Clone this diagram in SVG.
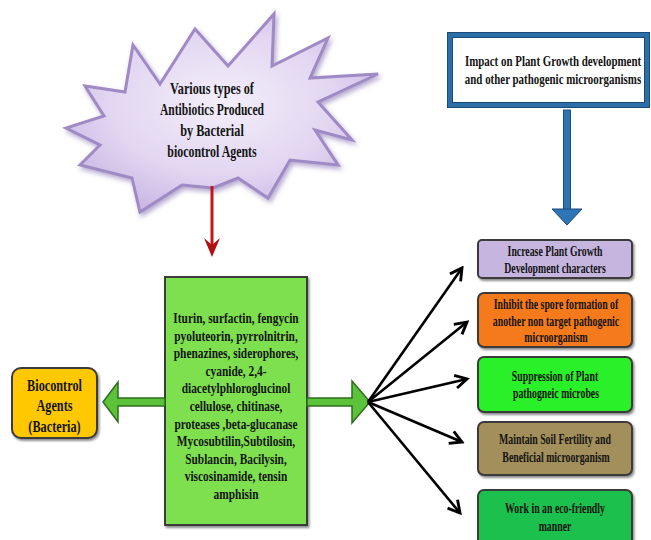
<svg xmlns="http://www.w3.org/2000/svg" width="651" height="540" viewBox="0 0 651 540">
<defs>
<style>
text{font-family:"Liberation Serif","Times New Roman",serif;font-weight:bold;fill:#141414;text-anchor:middle}
.st{font-size:17.5px}.bl{font-size:14px}.gr{font-size:15px}.ye{font-size:17.5px}.rb{font-size:14px}
.box{stroke:#3a3a3a;stroke-width:2}
.blk{fill:none;stroke:#000;stroke-width:2.6}
</style>
<radialGradient id="lav" cx="0.5" cy="0.45" r="0.6">
<stop offset="0" stop-color="#f3eefa"/><stop offset="0.6" stop-color="#e2d6f1"/><stop offset="1" stop-color="#c9b5e2"/>
</radialGradient>
<filter id="sh" x="-10%" y="-10%" width="130%" height="130%">
<feDropShadow dx="2" dy="3" stdDeviation="2.5" flood-color="#7a62a8" flood-opacity="0.55"/>
</filter>
<filter id="bsh" x="-5%" y="-5%" width="115%" height="125%">
<feDropShadow dx="1.5" dy="2" stdDeviation="1.2" flood-color="#000" flood-opacity="0.45"/>
</filter>
<marker id="chev" viewBox="0 0 12 12" refX="10" refY="6" markerWidth="6" markerHeight="6" orient="auto" markerUnits="strokeWidth">
<path d="M1,1 L10,6 L1,11" fill="none" stroke="#000" stroke-width="2.2" stroke-linejoin="miter"/>
</marker>
</defs>
<rect width="651" height="540" fill="#fff"/>

<g id="starburst">
<polygon filter="url(#sh)" fill="url(#lav)" stroke="#a08ac6" stroke-width="3" stroke-linejoin="miter"
points="133,45 160,84 195,29 228,66 274,14 272,66 328,38 310,78 378,74 318,102 352,140 315,130 338,165 290,160 268,198 238,178 213,188 182,185 140,212 132,178 80,165 100,145 66,128 104,116 85,86 125,92"/>
<text class="st" transform="translate(212,94) scale(0.7,1)">Various types of</text>
<text class="st" transform="translate(212,115) scale(0.66,1)">Antibiotics Produced</text>
<text class="st" transform="translate(212,136) scale(0.7,1)">by Bacterial</text>
<text class="st" transform="translate(212,157) scale(0.68,1)">biocontrol Agents</text>
</g>

<g id="impact">
<rect x="450" y="35" width="197" height="70" fill="#fff" stroke="#2a6fa8" stroke-width="5"/>
<rect x="447.5" y="32.5" width="202" height="75" fill="none" stroke="#1b4a78" stroke-width="1"/>
<rect x="452.5" y="37.5" width="192" height="65" fill="none" stroke="#1b4a78" stroke-width="1"/>
<text class="bl" transform="translate(553,66) scale(0.78,1)">Impact on Plant Growth development</text>
<text class="bl" transform="translate(553,84) scale(0.78,1)">and other pathogenic microorganisms</text>
</g>

<g id="antibiotics">
<rect x="165" y="277" width="142" height="248" fill="#7ee04f" stroke="#3a3a3a" stroke-width="2" filter="url(#bsh)"/>
<g transform="translate(236,0) scale(0.76,1)">
<text class="gr" x="0" y="323">Iturin, surfactin, fengycin</text>
<text class="gr" x="0" y="340.6">pyoluteorin, pyrrolnitrin,</text>
<text class="gr" x="0" y="358.2">phenazines, siderophores,</text>
<text class="gr" x="0" y="375.8">cyanide, 2,4-</text>
<text class="gr" x="0" y="393.4">diacetylphloroglucinol</text>
<text class="gr" x="0" y="411">cellulose, chitinase,</text>
<text class="gr" x="0" y="428.6">proteases ,beta-glucanase</text>
<text class="gr" x="0" y="446.2">Mycosubtilin,Subtilosin,</text>
<text class="gr" x="0" y="463.8">Sublancin, Bacilysin,</text>
<text class="gr" x="0" y="481.4">viscosinamide, tensin</text>
<text class="gr" x="0" y="499">amphisin</text>
</g>
</g>

<g id="biocontrol">
<rect x="12" y="368" width="85" height="70" rx="9" fill="#ffc800" stroke="#3a3a3a" stroke-width="2" filter="url(#bsh)"/>
<g transform="translate(54.5,0) scale(0.7,1)">
<text class="ye" x="0" y="391">Biocontrol</text>
<text class="ye" x="0" y="411.5">Agents</text>
<text class="ye" x="0" y="432">(Bacteria)</text>
</g>
</g>

<g id="box1">
<rect class="box" x="478" y="240" width="154" height="38" rx="4" fill="#c6b5df" filter="url(#bsh)"/>
<text class="rb" transform="translate(555,256) scale(0.7,1)">Increase Plant Growth</text>
<text class="rb" transform="translate(555,272.5) scale(0.7,1)">Development characters</text>
</g>
<g id="box2">
<rect class="box" x="478" y="293" width="154" height="54" rx="6" fill="#f57a1c" filter="url(#bsh)"/>
<text class="rb" transform="translate(556,309) scale(0.7,1)">Inhibit the spore formation of</text>
<text class="rb" transform="translate(556,325.5) scale(0.7,1)">another non target pathogenic</text>
<text class="rb" transform="translate(556,342) scale(0.7,1)">microorganism</text>
</g>
<g id="box3">
<rect class="box" x="478" y="357" width="154" height="55" rx="6" fill="#2af02a" filter="url(#bsh)"/>
<text class="rb" transform="translate(555,381) scale(0.7,1)">Suppression of Plant</text>
<text class="rb" transform="translate(556,398) scale(0.7,1)">pathogneic microbes</text>
</g>
<g id="box4">
<rect class="box" x="478" y="422" width="154" height="53" rx="6" fill="#a38f5c" filter="url(#bsh)"/>
<text class="rb" transform="translate(555,444) scale(0.7,1)">Maintain Soil Fertility and</text>
<text class="rb" transform="translate(556,462) scale(0.7,1)">Beneficial microorganism</text>
</g>
<g id="box5">
<rect class="box" x="478" y="490" width="154" height="56" rx="6" fill="#1fc04e" filter="url(#bsh)"/>
<text class="rb" transform="translate(555,513) scale(0.7,1)">Work in an eco-friendly</text>
<text class="rb" transform="translate(555,531) scale(0.7,1)">manner</text>
</g>

<g id="connectors">
<line x1="212" y1="186" x2="212" y2="248" stroke="#c01818" stroke-width="3"/>
<path d="M212,257 L204,238 L212,245 L220,238 Z" fill="#b01010"/>
<rect x="563.5" y="110" width="7" height="100" fill="#2e75b6" stroke="#1b4a78" stroke-width="1"/>
<path d="M552,209 L582,209 L567,225 Z" fill="#2e75b6" stroke="#1b4a78" stroke-width="1"/>
<path d="M165,398 L118,398 L118,382 L103,402 L118,422 L118,406 L165,406 Z" fill="#5cc23a" stroke="#2e6e1e" stroke-width="1.5" stroke-linejoin="miter"/>
<path d="M307,398 L352,398 L352,381 L370,402 L352,423 L352,406 L307,406 Z" fill="#5cc23a" stroke="#2e6e1e" stroke-width="1.5" stroke-linejoin="miter"/>
<line class="blk" x1="368" y1="402" x2="462" y2="268" marker-end="url(#chev)"/>
<line class="blk" x1="368" y1="402" x2="467" y2="322" marker-end="url(#chev)"/>
<line class="blk" x1="368" y1="402" x2="467" y2="379" marker-end="url(#chev)"/>
<line class="blk" x1="368" y1="402" x2="462" y2="442" marker-end="url(#chev)"/>
<line class="blk" x1="368" y1="402" x2="460" y2="513" marker-end="url(#chev)"/>
</g>
</svg>
